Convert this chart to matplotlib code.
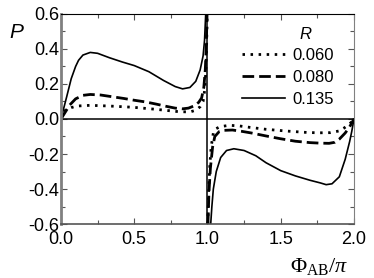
import numpy as np
import matplotlib.pyplot as plt
from matplotlib.ticker import MultipleLocator

plt.rcParams['font.family'] = ['Liberation Sans', 'DejaVu Sans']
plt.rcParams['mathtext.fontset'] = 'custom'
plt.rcParams['mathtext.rm'] = 'Liberation Serif'
plt.rcParams['mathtext.it'] = 'Liberation Serif:italic'

# R = 0.060 (dotted); nan splits the two branches at Phi = pi
phi_060 = [0, 0.03, 0.07, 0.11, 0.2, 0.33, 0.49, 0.65, 0.8, 0.88, 0.92, 0.95,
           0.97, 0.98, 0.988, 0.994, 0.998, np.nan,
           1.002, 1.008, 1.015, 1.025, 1.04, 1.06, 1.085, 1.15, 1.22, 1.29,
           1.4, 1.54, 1.68, 1.76, 1.84, 1.9, 1.93, 1.96, 1.98, 2.0]
p_060 = [0, 0.05, 0.065, 0.074, 0.078, 0.074, 0.067, 0.055, 0.042, 0.04, 0.05,
         0.07, 0.1, 0.16, 0.26, 0.42, 0.6, np.nan,
         -0.6, -0.42, -0.28, -0.16, -0.08, -0.055, -0.044, -0.036, -0.04,
         -0.048, -0.059, -0.069, -0.077, -0.079, -0.078, -0.068, -0.053,
         -0.035, -0.02, 0]

# R = 0.080 (dashed)
phi_080 = [0, 0.03, 0.06, 0.1, 0.15, 0.2, 0.27, 0.35, 0.43, 0.5, 0.58, 0.65,
           0.72, 0.78, 0.83, 0.87, 0.91, 0.94, 0.96, 0.975, 0.985, 0.992,
           0.997, np.nan,
           1.003, 1.01, 1.02, 1.035, 1.05, 1.08, 1.11, 1.17, 1.23, 1.3, 1.4,
           1.5, 1.6, 1.7, 1.77, 1.83, 1.87, 1.9, 1.94, 1.97, 2.0]
p_080 = [0, 0.04, 0.08, 0.115, 0.135, 0.14, 0.137, 0.127, 0.117, 0.107, 0.097,
         0.085, 0.072, 0.062, 0.058, 0.062, 0.075, 0.095, 0.12, 0.18, 0.28,
         0.42, 0.6, np.nan,
         -0.6, -0.42, -0.28, -0.16, -0.1, -0.072, -0.065, -0.063, -0.07,
         -0.08, -0.097, -0.113, -0.127, -0.135, -0.138, -0.139, -0.133,
         -0.115, -0.08, -0.045, 0]

# R = 0.135 (solid)
phi_135 = [0, 0.02, 0.04, 0.07, 0.1, 0.12, 0.15, 0.2, 0.25, 0.33, 0.42, 0.5,
           0.6, 0.7, 0.78, 0.83, 0.88, 0.92, 0.95, 0.97, 0.98, 0.988, np.nan,
           1.022, 1.03, 1.04, 1.06, 1.09, 1.13, 1.18, 1.25, 1.33, 1.4, 1.5,
           1.6, 1.7, 1.77, 1.81, 1.85, 1.9, 1.94, 1.97, 1.985, 2.0]
p_135 = [0, 0.065, 0.13, 0.23, 0.3, 0.335, 0.365, 0.38, 0.375, 0.35, 0.325,
         0.305, 0.27, 0.22, 0.185, 0.172, 0.18, 0.215, 0.28, 0.36, 0.45, 0.6,
         np.nan,
         -0.6, -0.5, -0.4, -0.3, -0.22, -0.18, -0.17, -0.18, -0.21, -0.25,
         -0.295, -0.325, -0.35, -0.365, -0.375, -0.37, -0.33, -0.23, -0.13,
         -0.07, 0]

fig = plt.figure(figsize=(3.74, 2.78), dpi=100)
ax = fig.add_axes([0.163, 0.194, 0.7835, 0.756])

ax.axhline(0, color='black', lw=1.1)
ax.axvline(1.0, color='black', lw=1.1)

ax.plot(phi_060, p_060, color='black', lw=2.0, linestyle=(0, (0.9, 2.0)),
        label='0.060')
ax.plot(phi_080, p_080, color='black', lw=2.0, linestyle=(0, (4.2, 1.8)),
        label='0.080')
ax.plot(phi_135, p_135, color='black', lw=1.2, label='0.135')

ax.set_xlim(0, 2)
ax.set_ylim(-0.6, 0.6)
ax.xaxis.set_major_locator(MultipleLocator(0.5))
ax.xaxis.set_minor_locator(MultipleLocator(0.25))
ax.yaxis.set_major_locator(MultipleLocator(0.2))
ax.yaxis.set_minor_locator(MultipleLocator(0.1))
ax.xaxis.set_major_formatter(plt.FuncFormatter(lambda v, _: f'{v:.1f}'))
ax.yaxis.set_major_formatter(plt.FuncFormatter(lambda v, _: f'{v:.1f}'))

ax.tick_params(which='both', direction='in', top=True, right=True,
               labelsize=13, color='#555555')
ax.tick_params(which='major', length=4, width=0.8)
ax.tick_params(which='minor', length=3, width=0.8)
ax.tick_params(axis='y', pad=1)
ax.tick_params(axis='x', pad=5)

ax.spines['left'].set_color('#808080')
ax.spines['left'].set_linewidth(2.0)
ax.spines['bottom'].set_color('#555555')
ax.spines['bottom'].set_linewidth(1.2)
ax.spines['right'].set_color('#808080')
ax.spines['right'].set_linewidth(0.8)
ax.spines['top'].set_color('black')
ax.spines['top'].set_linewidth(0.8)

fig.text(0.025, 0.865, 'P', fontsize=15, style='italic')
fig.text(0.775, 0.02, r'$\Phi_{\rm AB}/\pi$', fontsize=16)

leg = ax.legend(loc='upper right', bbox_to_anchor=(0.93, 0.84),
                frameon=False, fontsize=12, handlelength=2.6,
                handletextpad=0.4, labelspacing=0.42, borderaxespad=0,
                borderpad=0)
ax.text(0.835, 0.9, 'R', transform=ax.transAxes, fontsize=12,
        style='italic', ha='center', va='center')

plt.savefig('out.png', dpi=100)
